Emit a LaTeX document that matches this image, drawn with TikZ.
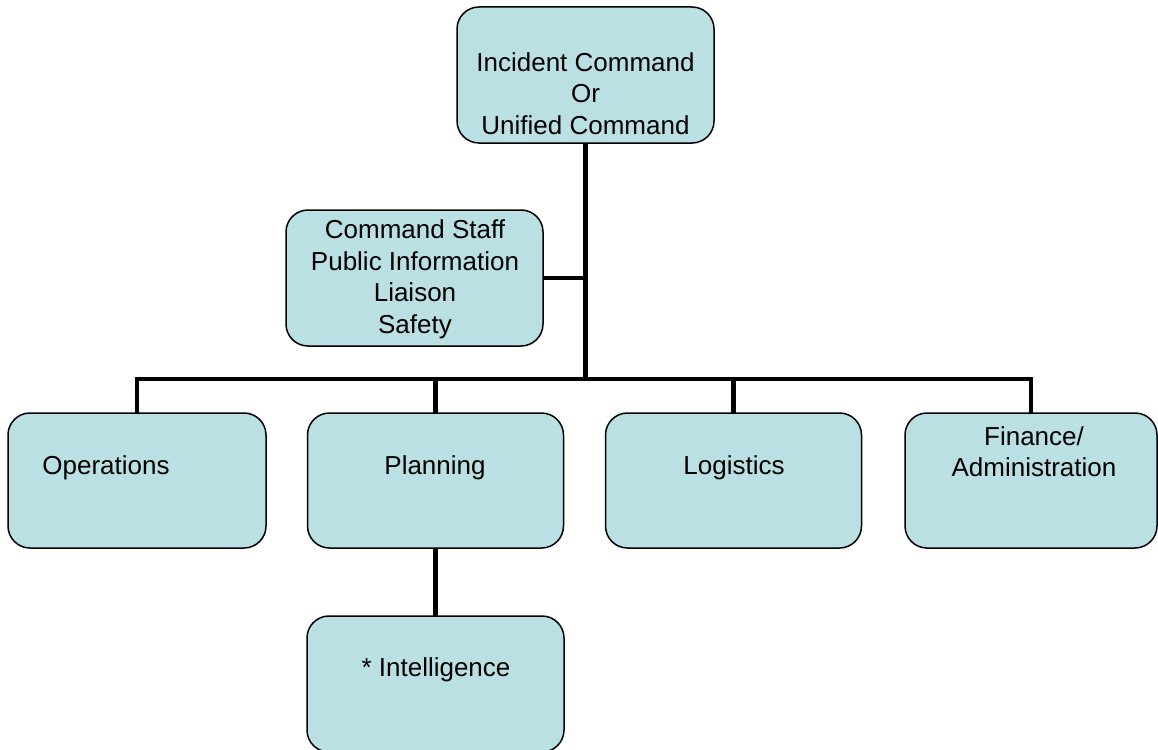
\documentclass[tikz,border=0pt]{standalone}
\usepackage{fontspec}
\setmainfont{Liberation Sans}
\definecolor{boxfill}{RGB}{187,224,227}
\begin{document}
\begin{tikzpicture}[x=1pt,y=-1pt,
  box/.style={draw=black,line width=1.5pt,fill=boxfill,rounded corners=22pt,
    minimum width=#1,minimum height=136pt,inner sep=0pt,outer sep=0pt},
  box/.default=257pt,
  conn/.style={line width=4.5pt,draw=black},
  lbl/.style={font=\fontsize{26}{31.5}\selectfont,align=center,inner sep=0pt}]
\useasboundingbox (0,0) rectangle (1158,749);
\clip (0,0) rectangle (1158,749);
\fill[white] (0,0) rectangle (1158,749);
% boxes
\node[box] (top) at (585.5,75) {};
\node[box] (cs) at (414.5,278) {};
\node[box=258pt,minimum height=135pt] (ops) at (137,480.5) {};
\node[box=256pt,minimum height=135pt] (plan) at (435.5,480.5) {};
\node[box=256pt,minimum height=135pt] (log) at (733.5,480.5) {};
\node[box=252pt,minimum height=135pt] (fin) at (1031,480.5) {};
\node[box] (intel) at (435.5,684) {};
\coordinate (bus) at (585.5,379);
% connectors
\draw[conn] (top.south) -- (bus);
\draw[conn] (cs.east) -- (cs.east -| top.south);
\draw[conn] (ops.north) |- (bus) -| (fin.north);
\draw[conn] (plan.north) -- (plan.north |- bus);
\draw[conn] (log.north) -- (log.north |- bus);
\draw[conn] (plan.south) -- (intel.north);
% texts
\node[lbl] (toptxt) at (585.5,93.5) {Incident Command\\Or\\Unified Command};
\node[lbl] (cstxt) at (415,279.5) {Command Staff\\Public Information\\Liaison\\Safety};
\node[lbl] (opstxt) at (106,468) {Operations};
\node[lbl] (plantxt) at (435,468) {Planning};
\node[lbl] (logtxt) at (734,468) {Logistics};
\node[lbl] (fintxt) at (1034,451.5) {Finance/\\Administration};
\node[lbl] (inteltxt) at (436,670) {* Intelligence};
\end{tikzpicture}
\end{document}
